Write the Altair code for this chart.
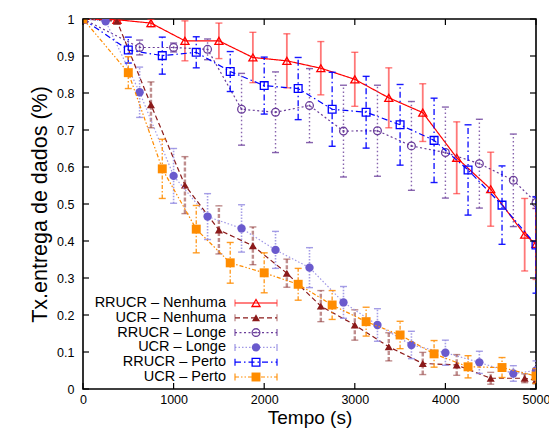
import altair as alt
import pandas as pd

series_names = ["RRUCR – Nenhuma", "UCR – Nenhuma", "RRUCR – Longe",
                "UCR – Longe", "RRUCR – Perto", "UCR – Perto"]

# RRUCR - Nenhuma
rn_x = [0, 375, 750, 1125, 1500, 1875, 2250, 2625, 3000, 3375, 3750, 4125, 4500, 4875, 5000]
rn_y = [1.0, 0.998, 0.989, 0.941, 0.941, 0.896, 0.887, 0.867, 0.837, 0.787, 0.747, 0.625, 0.540, 0.417, 0.392]
rn_e = [0, 0.003, 0.010, 0.054, 0.048, 0.068, 0.073, 0.072, 0.073, 0.081, 0.078, 0.097, 0.100, 0.098, 0.096]

# UCR - Nenhuma
un_x = [0, 375, 750, 1125, 1500, 1875, 2250, 2625, 3000, 3375, 3750, 4125, 4500, 4875, 5000]
un_y = [1.0, 0.994, 0.768, 0.551, 0.430, 0.387, 0.313, 0.224, 0.173, 0.114, 0.069, 0.065, 0.029, 0.029, 0.024]
un_e = [0, 0.005, 0.062, 0.077, 0.065, 0.051, 0.038, 0.042, 0.041, 0.038, 0.030, 0.028, 0.016, 0.012, 0.010]

# RRUCR - Longe
rl_x = [0, 625, 1000, 1375, 1750, 2125, 2500, 2875, 3250, 3625, 4000, 4375, 4750, 5000]
rl_y = [1.0, 0.923, 0.923, 0.918, 0.756, 0.748, 0.766, 0.697, 0.698, 0.657, 0.639, 0.609, 0.564, 0.504]
rl_e = [0, 0.020, 0.012, 0.028, 0.097, 0.109, 0.100, 0.124, 0.123, 0.120, 0.123, 0.120, 0.125, 0.016]

# UCR - Longe
ul_x = [0, 250, 625, 1000, 1375, 1750, 2125, 2500, 2875, 3250, 3625, 4000, 4375, 4750, 5000]
ul_y = [1.0, 0.994, 0.802, 0.576, 0.466, 0.434, 0.376, 0.328, 0.234, 0.173, 0.119, 0.098, 0.072, 0.042, 0.050]
ul_e = [0, 0.005, 0.068, 0.074, 0.062, 0.064, 0.050, 0.054, 0.043, 0.044, 0.037, 0.034, 0.030, 0.021, 0.026]

# RRUCR - Perto
rp_x = [0, 500, 875, 1250, 1625, 2000, 2375, 2750, 3125, 3500, 3875, 4250, 4625, 5000]
rp_y = [1.0, 0.916, 0.901, 0.910, 0.858, 0.820, 0.812, 0.756, 0.748, 0.714, 0.672, 0.592, 0.497, 0.389]
rp_e = [0, 0.035, 0.050, 0.042, 0.054, 0.077, 0.084, 0.100, 0.097, 0.109, 0.114, 0.122, 0.106, 0.130]

# UCR - Perto
up_x = [0, 500, 875, 1250, 1625, 2000, 2375, 2750, 3125, 3500, 3875, 4250, 4625, 5000]
up_y = [1.0, 0.855, 0.595, 0.432, 0.341, 0.314, 0.283, 0.227, 0.182, 0.146, 0.095, 0.060, 0.058, 0.035]
up_e = [0, 0.043, 0.080, 0.064, 0.055, 0.054, 0.043, 0.039, 0.039, 0.037, 0.036, 0.030, 0.027, 0.020]

x_ticks = [0, 1000, 2000, 3000, 4000, 5000]
y_ticks = [0, 0.1, 0.2, 0.3, 0.4, 0.5, 0.6, 0.7, 0.8, 0.9, 1.0]

data = [(rn_x, rn_y, rn_e), (un_x, un_y, un_e), (rl_x, rl_y, rl_e),
        (ul_x, ul_y, ul_e), (rp_x, rp_y, rp_e), (up_x, up_y, up_e)]

styles = [
    dict(color="#ff0000", line="#ff0000", lw=1.2, dash=[1, 0], ecol="#ff3030", eop=0.65, ew=1.8, edash=[1, 0],
         shape="triangle-up", filled=False, size=65, dot=False),
    dict(color="#8b1a1a", line="#8b1a1a", lw=1.2, dash=[5, 3], ecol="#8b3030", eop=0.55, ew=2.4, edash=[4, 2],
         shape="triangle-up", filled=True, size=65, dot=False),
    dict(color="#6a3d9a", line="#6a3d9a", lw=1.2, dash=[2, 2.5], ecol="#6a3d9a", eop=0.8, ew=1.4, edash=[1.5, 2.5],
         shape="circle", filled=False, size=60, dot=True),
    dict(color="#6a5acd", line="#a098e6", lw=1.2, dash=[1.5, 2], ecol="#8f86e0", eop=0.8, ew=1.6, edash=[1.5, 1.5],
         shape="circle", filled=True, size=70, dot=False),
    dict(color="#0000ff", line="#0000ff", lw=1.2, dash=[6, 3, 1.5, 3], ecol="#0000ff", eop=0.9, ew=1.4, edash=[6, 3, 1.5, 3],
         shape="square", filled=False, size=60, dot=False),
    dict(color="#ff8c00", line="#ff8c00", lw=1.2, dash=[4, 2, 1.5, 2, 1.5, 2], ecol="#ff8c00", eop=0.85, ew=1.4,
         edash=[4, 2, 1.5, 2], shape="square", filled=True, size=80, dot=False),
]

W, H = 453, 370
FONT = "Liberation Sans"

xs = alt.Scale(domain=[0, 5000], nice=False)
ys = alt.Scale(domain=[0, 1], nice=False)
x_axis = alt.Axis(values=x_ticks, title="Tempo (s)", format="d", labelFontSize=12.5, labelPadding=4,
                  labelFlush=False, titleFontSize=19, titleFontWeight="normal", titleY=19,
                  titleBaseline="top", ticks=False, domain=False, grid=False, labelFont=FONT, titleFont=FONT,
                  labelColor="black", titleColor="black")
y_axis = alt.Axis(values=y_ticks, title="Tx.entrega de dados (%)", format=".1~f", labelFontSize=12.5,
                  labelPadding=9, labelFlush=False, titleFontSize=21.5, titleFontWeight="normal", titleX=-32,
                  titleY=H / 2, titleBaseline="bottom", ticks=False, domain=False, grid=False, labelFont=FONT,
                  titleFont=FONT, labelColor="black", titleColor="black")

main_layers = []
for name, (xv, yv, ev), st in zip(series_names, data, styles):
    df = pd.DataFrame({"x": xv, "y": yv, "e": ev})
    df["lo"] = df["y"] - df["e"]
    df["hi"] = df["y"] + df["e"]
    base = alt.Chart(df)
    dfe = base.transform_filter("datum.e > 0")
    main_layers.append(dfe.mark_rule(color=st["ecol"], opacity=st["eop"], strokeWidth=st["ew"],
                                     strokeDash=st["edash"], clip=True).encode(
        x=alt.X("x:Q", scale=xs, axis=x_axis), y=alt.Y("lo:Q", scale=ys, axis=y_axis), y2="hi:Q"))
    for f in ["lo", "hi"]:
        main_layers.append(dfe.mark_tick(orient="horizontal", size=7, thickness=1.4, color=st["ecol"],
                                         opacity=st["eop"], clip=True).encode(
            x=alt.X("x:Q", scale=xs, axis=x_axis), y=alt.Y(f + ":Q", scale=ys, axis=y_axis)))
    main_layers.append(base.mark_line(color=st["line"], strokeWidth=st["lw"], strokeDash=st["dash"],
                                      clip=True).encode(
        x=alt.X("x:Q", scale=xs, axis=x_axis), y=alt.Y("y:Q", scale=ys, axis=y_axis)))
    main_layers.append(base.mark_point(shape=st["shape"], filled=st["filled"], size=st["size"],
                                       color=st["color"], opacity=1, strokeWidth=1.3, clip=True).encode(
        x=alt.X("x:Q", scale=xs, axis=x_axis), y=alt.Y("y:Q", scale=ys, axis=y_axis)))
    if st["dot"]:
        main_layers.append(base.mark_point(shape="circle", filled=True, size=4, color=st["color"],
                                           opacity=1, clip=True).encode(
            x=alt.X("x:Q", scale=xs, axis=x_axis), y=alt.Y("y:Q", scale=ys, axis=y_axis)))

# inward tick marks on all four sides
xt = alt.Chart(pd.DataFrame({"v": x_ticks}))
yt = alt.Chart(pd.DataFrame({"v": y_ticks}))
TL = 6
main_layers += [
    xt.mark_rule(color="black", strokeWidth=1.2).encode(
        x=alt.X("v:Q", scale=xs, axis=x_axis), y=alt.value(H), y2=alt.value(H - TL)),
    xt.mark_rule(color="black", strokeWidth=1.2).encode(
        x=alt.X("v:Q", scale=xs, axis=x_axis), y=alt.value(0), y2=alt.value(TL)),
    yt.mark_rule(color="black", strokeWidth=1.2).encode(
        y=alt.Y("v:Q", scale=ys, axis=y_axis), x=alt.value(0), x2=alt.value(TL)),
    yt.mark_rule(color="black", strokeWidth=1.2).encode(
        y=alt.Y("v:Q", scale=ys, axis=y_axis), x=alt.value(W), x2=alt.value(W - TL)),
]
main = alt.layer(*main_layers)

# legend (inside the plot, lower left)
leg = alt.Chart(pd.DataFrame({"series": series_names}))
ly = alt.Y("series:N", scale=alt.Scale(type="point", domain=series_names, range=[284, 358], padding=0),
           axis=None)
LX0, LX1, LXM, LTX = 152, 194, 173, 143
legend_layers = [leg.mark_text(align="right", baseline="middle", fontSize=14.5, font=FONT, color="black").encode(
    x=alt.value(LTX), y=ly, text="series:N")]
for name, st in zip(series_names, styles):
    row = leg.transform_filter(alt.datum.series == name)
    legend_layers.append(row.mark_rule(color=st["line"], strokeWidth=st["lw"], strokeDash=st["dash"]).encode(
        x=alt.value(LX0), x2=alt.value(LX1), y=ly))
    for xx in [LX0, LX1]:
        legend_layers.append(row.mark_tick(orient="vertical", size=7, thickness=1.3, color=st["ecol"],
                                           opacity=st["eop"]).encode(x=alt.value(xx), y=ly))
    legend_layers.append(row.mark_point(shape=st["shape"], filled=st["filled"], size=st["size"],
                                        color=st["color"], opacity=1, strokeWidth=1.3).encode(
        x=alt.value(LXM), y=ly))
    if st["dot"]:
        legend_layers.append(row.mark_point(shape="circle", filled=True, size=4, color=st["color"],
                                            opacity=1).encode(x=alt.value(LXM), y=ly))
legend = alt.layer(*legend_layers)

chart = alt.layer(main, legend).resolve_scale(y="independent").properties(
    width=W, height=H,
    autosize=alt.AutoSizeParams(type="none"),
    padding={"left": 75, "top": 11, "right": 13, "bottom": 39},
    background="white",
).configure_view(stroke="black", strokeWidth=1.6)

chart.save("out.html", embed_options={"renderer": "svg", "actions": False})
